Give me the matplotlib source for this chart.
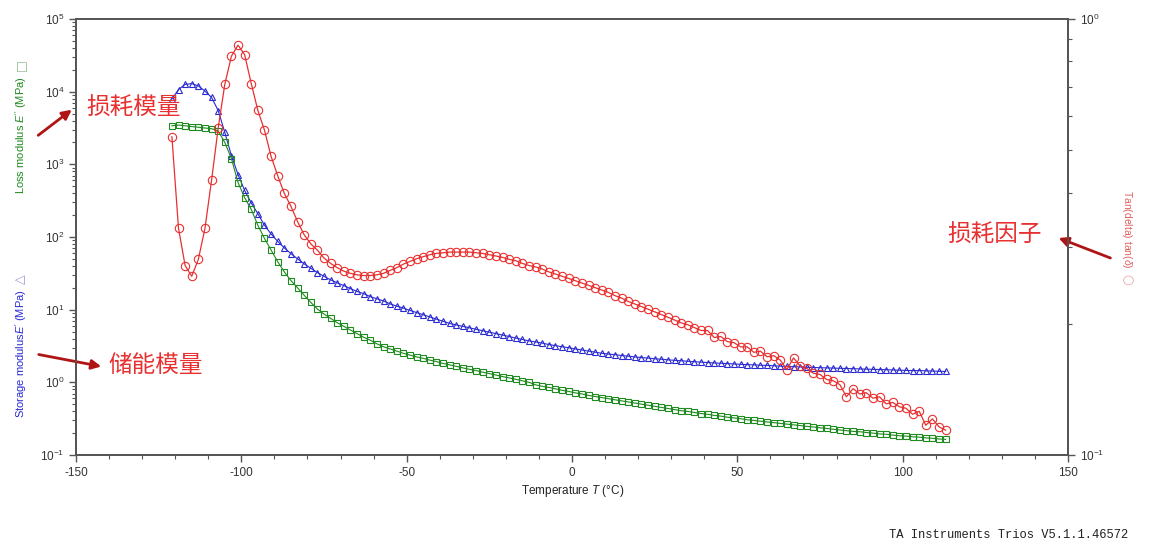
import numpy as np
import matplotlib
matplotlib.use("Agg")
import matplotlib.pyplot as plt
from matplotlib.ticker import LogLocator, NullFormatter, MultipleLocator

plt.rcParams['font.family'] = ['Liberation Sans', 'DejaVu Sans', 'Noto Sans CJK SC']
plt.rcParams['mathtext.fontset'] = 'custom'
plt.rcParams['mathtext.rm'] = 'Liberation Sans'
plt.rcParams['mathtext.it'] = 'Liberation Sans:italic'
plt.rcParams['axes.unicode_minus'] = False

# temperature (°C)
temp = [-121, -119, -117, -115, -113, -111, -109, -107, -105, -103,
        -101, -99, -97, -95, -93, -91, -89, -87, -85, -83,
        -81, -79, -77, -75, -73, -71, -69, -67, -65, -63,
        -61, -59, -57, -55, -53, -51, -49, -47, -45, -43,
        -41, -39, -37, -35, -33, -31, -29, -27, -25, -23,
        -21, -19, -17, -15, -13, -11, -9, -7, -5, -3,
        -1, 1, 3, 5, 7, 9, 11, 13, 15, 17,
        19, 21, 23, 25, 27, 29, 31, 33, 35, 37,
        39, 41, 43, 45, 47, 49, 51, 53, 55, 57,
        59, 61, 63, 65, 67, 69, 71, 73, 75, 77,
        79, 81, 83, 85, 87, 89, 91, 93, 95, 97,
        99, 101, 103, 105, 107, 109, 111, 113]

# storage modulus E' (MPa)
storage = [7940, 10700, 12600, 12900, 12000, 10200, 8320, 5500, 2750, 1320,
           724, 437, 295, 209, 145, 110, 87.1, 70.8, 58.9, 50.1,
           42.7, 37.2, 32.4, 28.8, 25.7, 23.4, 21.4, 19.5, 17.8, 16.6,
           15.1, 14.1, 13.2, 12.0, 11.2, 10.5, 9.77, 9.12, 8.51, 7.94,
           7.41, 6.92, 6.46, 6.17, 5.89, 5.62, 5.37, 5.13, 4.90, 4.68,
           4.47, 4.27, 4.07, 3.89, 3.72, 3.59, 3.47, 3.31, 3.20, 3.09,
           2.99, 2.88, 2.79, 2.69, 2.60, 2.51, 2.45, 2.40, 2.34, 2.29,
           2.24, 2.19, 2.16, 2.11, 2.08, 2.04, 2.01, 1.98, 1.95, 1.92,
           1.90, 1.87, 1.85, 1.83, 1.81, 1.79, 1.77, 1.75, 1.74, 1.72,
           1.71, 1.69, 1.67, 1.66, 1.64, 1.63, 1.61, 1.60, 1.59, 1.58,
           1.57, 1.56, 1.55, 1.54, 1.53, 1.52, 1.51, 1.50, 1.49, 1.48,
           1.47, 1.46, 1.45, 1.45, 1.44, 1.43, 1.42, 1.41]

# loss modulus E'' (MPa)
loss = [3390, 3470, 3390, 3310, 3240, 3160, 3090, 2880, 2000, 1200,
        562, 347, 240, 145, 95.5, 66.1, 45.7, 33.1, 25.1, 20.0,
        15.8, 12.6, 10.2, 8.71, 7.59, 6.61, 5.89, 5.25, 4.68, 4.17,
        3.80, 3.39, 3.09, 2.88, 2.69, 2.51, 2.37, 2.24, 2.14, 2.02,
        1.93, 1.82, 1.74, 1.66, 1.58, 1.51, 1.45, 1.38, 1.32, 1.26,
        1.20, 1.15, 1.10, 1.05, 1.00, 0.923, 0.881, 0.851, 0.813, 0.776,
        0.750, 0.716, 0.692, 0.661, 0.638, 0.617, 0.596, 0.575, 0.556, 0.537,
        0.519, 0.501, 0.484, 0.468, 0.452, 0.437, 0.422, 0.407, 0.398, 0.385,
        0.372, 0.363, 0.351, 0.343, 0.331, 0.324, 0.316, 0.305, 0.299, 0.292,
        0.285, 0.279, 0.272, 0.266, 0.260, 0.254, 0.248, 0.243, 0.237, 0.232,
        0.226, 0.221, 0.216, 0.211, 0.209, 0.204, 0.200, 0.195, 0.193, 0.188,
        0.184, 0.182, 0.178, 0.176, 0.172, 0.170, 0.166, 0.164]

# tan(delta)
tan_delta = [0.537, 0.331, 0.272, 0.257, 0.281, 0.331, 0.427, 0.562, 0.708, 0.822,
             0.871, 0.828, 0.711, 0.617, 0.556, 0.484, 0.437, 0.398, 0.372, 0.343,
             0.320, 0.305, 0.295, 0.283, 0.275, 0.269, 0.264, 0.261, 0.259, 0.258,
             0.258, 0.259, 0.261, 0.265, 0.269, 0.274, 0.278, 0.282, 0.285, 0.288,
             0.290, 0.291, 0.292, 0.292, 0.292, 0.292, 0.291, 0.290, 0.288, 0.286,
             0.284, 0.281, 0.279, 0.275, 0.272, 0.270, 0.267, 0.263, 0.260, 0.257,
             0.254, 0.251, 0.248, 0.245, 0.242, 0.239, 0.236, 0.232, 0.229, 0.225,
             0.222, 0.219, 0.216, 0.213, 0.210, 0.207, 0.204, 0.201, 0.199, 0.196,
             0.193, 0.193, 0.186, 0.187, 0.182, 0.181, 0.177, 0.177, 0.172, 0.173,
             0.168, 0.169, 0.165, 0.157, 0.167, 0.160, 0.158, 0.154, 0.153, 0.149,
             0.148, 0.145, 0.136, 0.142, 0.138, 0.139, 0.135, 0.136, 0.131, 0.132,
             0.129, 0.128, 0.124, 0.126, 0.117, 0.121, 0.116, 0.114]

blue = '#2a2ad0'
green = '#1f8a1f'
red = '#e83030'
dark_red = '#b01515'
spine_c = '#555555'

W, H = 1150, 545
fig = plt.figure(figsize=(W / 100, H / 100), dpi=100)
ax = fig.add_axes([76 / W, 1 - 455 / H, (1068 - 76) / W, (455 - 19) / H])
ax2 = ax.twinx()

ax.plot(temp, storage, color=blue, lw=0.8, marker='^', ms=4.5, mfc='none', mec=blue, mew=0.8)
ax.plot(temp, loss, color=green, lw=0.8, marker='s', ms=4.5, mfc='none', mec=green, mew=0.8)
ax2.plot(temp, tan_delta, color=red, lw=0.9, marker='o', ms=6, mfc='none', mec=red, mew=0.8)

ax.set_xlim(-150, 150)
ax.set_yscale('log')
ax.set_ylim(0.1, 1e5)
ax2.set_yscale('log')
ax2.set_ylim(0.1, 1)

ax.xaxis.set_major_locator(MultipleLocator(50))
ax.xaxis.set_minor_locator(MultipleLocator(10))
ax.yaxis.set_major_locator(LogLocator(base=10, numticks=10))
ax.yaxis.set_minor_locator(LogLocator(base=10, subs=np.arange(2, 10), numticks=20))
ax.yaxis.set_minor_formatter(NullFormatter())
ax2.yaxis.set_major_locator(LogLocator(base=10, numticks=10))
ax2.yaxis.set_minor_locator(LogLocator(base=10, subs=np.arange(2, 10), numticks=20))
ax2.yaxis.set_minor_formatter(NullFormatter())

for a in (ax, ax2):
    for s in a.spines.values():
        s.set_color(spine_c)
        s.set_linewidth(1.3)
    a.tick_params(which='major', direction='out', length=5, width=1, colors=spine_c,
                  labelcolor='#333333', labelsize=8.5)
    a.tick_params(which='minor', direction='out', length=3, width=0.8, colors=spine_c)
ax.tick_params(axis='y', which='both', right=False)

# axis titles
fig.text(573 / W, 1 - 491 / H, 'Temperature $T$ (°C)', ha='center', va='center',
         fontsize=8.5, color='#222222')
fig.text(21 / W, 1 - 135 / H, "Loss modulus $E''$ (MPa)", rotation=90,
         ha='center', va='center', fontsize=8, color=green)
fig.text(21 / W, 1 - 65 / H, '\u25a1', rotation=90, ha='center', va='center',
         fontsize=9, family='DejaVu Sans', color='#8fb88f')
fig.text(21 / W, 1 - 354 / H, "Storage modulus$E'$ (MPa)", rotation=90,
         ha='center', va='center', fontsize=8, color=blue)
fig.text(21 / W, 1 - 279 / H, '\u25b3', rotation=90, ha='center', va='center',
         fontsize=9, family='DejaVu Sans', color='#9a9ad8')
fig.text(1127 / W, 1 - 229 / H, 'Tan(delta) tan($\\delta$)', rotation=270,
         ha='center', va='center', fontsize=7.5, color='#e06060')
fig.text(1127 / W, 1 - 279 / H, '\u25cb', rotation=270, ha='center', va='center',
         fontsize=9, family='DejaVu Sans', color='#e8a0a0')
fig.text(1128 / W, 1 - 535 / H, 'TA Instruments Trios V5.1.1.46572', ha='right',
         va='center', fontsize=8.7, family='Liberation Mono', color='#222222')

# Chinese annotations
cjk = ['Noto Sans CJK SC', 'DejaVu Sans']
fig.text(86 / W, 1 - 108 / H, '损耗模量', ha='left', va='center', fontsize=17,
         family=cjk, color=red)
fig.text(108 / W, 1 - 365 / H, '储能模量', ha='left', va='center', fontsize=17,
         family=cjk, color=red)
fig.text(947 / W, 1 - 235 / H, '损耗因子', ha='left', va='center', fontsize=17,
         family=cjk, color=red)

arrows = [((36, 137), (74, 108)), ((36, 354), (104, 367)), ((1113, 259), (1056, 237))]
for tail, head in arrows:
    ax.annotate('', xy=(head[0] / W, 1 - head[1] / H), xycoords='figure fraction',
                xytext=(tail[0] / W, 1 - tail[1] / H), textcoords='figure fraction',
                arrowprops=dict(arrowstyle='-|>', color=dark_red, lw=2, mutation_scale=14),
                annotation_clip=False)

fig.savefig('out.png', dpi=100)
